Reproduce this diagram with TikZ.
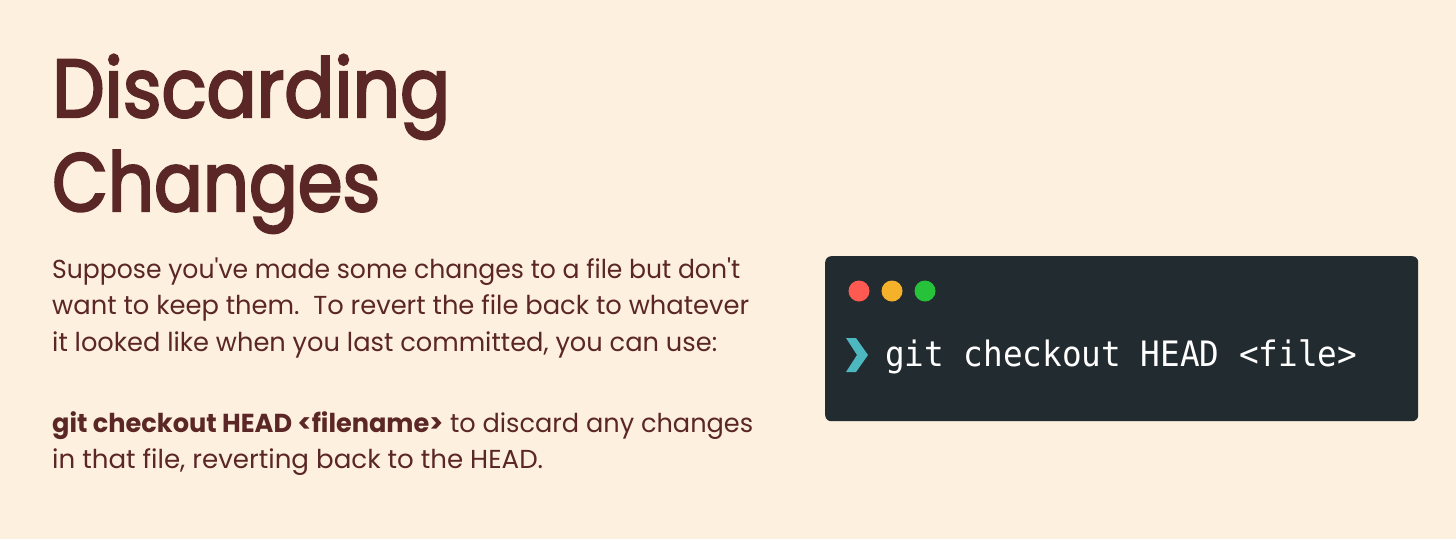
\documentclass[tikz,border=0pt]{standalone}
\usepackage{fontspec}
\usepackage{graphicx}
\setmainfont{Poppins}
\newfontfamily\titlefont{Poppins}[FakeBold=3]
\newfontfamily\bodyfont{Poppins}
\newfontfamily\termfont{DejaVu Sans Mono}
\definecolor{bg}{HTML}{FDF0DF}
\definecolor{ink}{HTML}{5A2626}
\definecolor{term}{HTML}{222B30}
\definecolor{dotred}{HTML}{FF5A52}
\definecolor{dotyel}{HTML}{F6B12B}
\definecolor{dotgrn}{HTML}{25C23A}
\definecolor{teal}{HTML}{4DB8C0}
\newcommand{\fitw}[2]{\resizebox{#1}{\height}{#2}}
\tikzset{
  title/.style={anchor=base west, inner sep=0pt, text=ink, font=\titlefont\fontsize{82}{82}\selectfont},
  body/.style={anchor=base west, inner sep=0pt, text=ink, font=\bodyfont\fontsize{26}{26}\selectfont},
  termtext/.style={anchor=base west, inner sep=0pt, text=white, font=\termfont\fontsize{35}{35}\selectfont},
  dot/.style={circle, inner sep=0pt, minimum size=21pt}
}
\begin{document}
\begin{tikzpicture}[x=1pt,y=-1pt]
\fill[bg] (0,0) rectangle (1456,539);
\useasboundingbox (0,0) rectangle (1456,539);
% title
\node[title] (t1) at (52,117) {\fitw{398pt}{Discarding}};
\node[title] (t2) at (52,211) {\fitw{328pt}{Changes}};
% body
\node[body] (b1) at (52,278) {\fitw{688pt}{Suppose you\textquotesingle ve made some changes to a file but don\textquotesingle t}};
\node[body] (b2) at (52,314) {\fitw{697pt}{want to keep them.\ \ To revert the file back to whatever}};
\node[body] (b3) at (52,351) {\fitw{665pt}{it looked like when you last committed, you can use:}};
\node[body] (b4) at (52,432) {\fitw{701pt}{\textbf{git checkout HEAD <filename>} to discard any changes}};
\node[body] (b5) at (52,468) {\fitw{491pt}{in that file, reverting back to the HEAD.}};
% terminal
\node[fill=term, rounded corners=6pt, minimum width=593pt, minimum height=165pt, anchor=north west, inner sep=0pt] (win) at (825,256) {};
\node[dot, fill=dotred] (d1) at (859,291) {};
\node[dot, fill=dotyel] (d2) at (892,291) {};
\node[dot, fill=dotgrn] (d3) at (925,291) {};
\fill[teal] (846,338) -- (856,338) -- (868,355) -- (856,372) -- (846,372) -- (857,355) -- cycle;
\node[termtext] (cmd) at (885,366) {\fitw{472pt}{git checkout HEAD <file>}};
\end{tikzpicture}
\end{document}
